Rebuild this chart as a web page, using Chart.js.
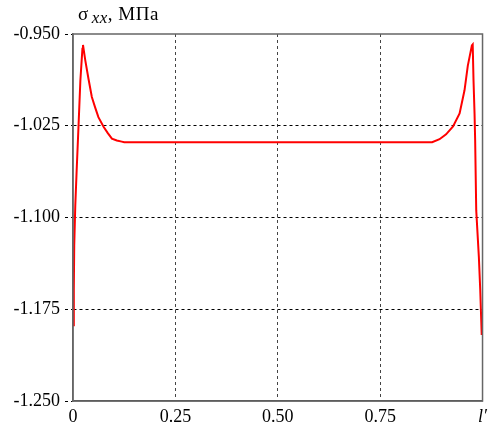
<!DOCTYPE html>
<html>
<head>
<meta charset="utf-8">
<script src="https://cdn.jsdelivr.net/npm/chart.js@4/dist/chart.umd.min.js"></script>
<style>
  html, body { margin: 0; padding: 0; background: #fff; }
  #wrap { position: relative; width: 492px; height: 426px; }
  #title {
    position: absolute; left: 78px; top: 3px;
    font-family: "Liberation Serif", serif; font-size: 19px; color: #000;
    white-space: nowrap; letter-spacing: 0.5px;
  }
  #title sub { font-style: italic; font-size: 17px; vertical-align: -3px; margin-left: 3px; }
</style>
</head>
<body>
<div id="wrap">
  <canvas id="stressChart" width="492" height="426"></canvas>
  <div id="title">σ<sub>xx</sub>, МПа</div>
</div>
<script>
// Position along the element (fraction of l')
const xPos = [0, 0.002, 0.003, 0.0056, 0.009, 0.013, 0.018, 0.023, 0.0244, 0.030,
  0.038, 0.046, 0.054, 0.062, 0.075, 0.085, 0.095, 0.107, 0.119, 0.125,
  0.877, 0.895, 0.911, 0.928, 0.944, 0.956, 0.964, 0.974, 0.976, 0.978,
  0.9805, 0.982, 0.9846, 0.991, 0.9944, 0.998];

// Stress sigma_xx, MPa
const sigmaXX = [-1.188, -1.159, -1.123, -1.090, -1.061, -1.029, -0.988, -0.962, -0.959, -0.9715,
  -0.987, -1.0015, -1.010, -1.018, -1.026, -1.031, -1.0355, -1.037, -1.038, -1.0385,
  -1.0385, -1.036, -1.032, -1.0255, -1.015, -0.996, -0.976, -0.9593, -0.9585, -0.988,
  -1.015, -1.037, -1.094, -1.132, -1.159, -1.196];

// Axis ticks
const xTickValues = [0, 0.25, 0.5, 0.75, 1];
const xTickLabels = ['0', '0.25', '0.50', '0.75', 'l′'];
const yTickValues = [-1.25, -1.175, -1.1, -1.025, -0.95];

const serif = '"Liberation Serif", "Times New Roman", serif';

// frame round the plot area
const framePlugin = {
  id: 'frame',
  afterDraw(chart) {
    const a = chart.chartArea;
    const ctx = chart.ctx;
    ctx.save();
    ctx.strokeStyle = '#666';
    ctx.lineWidth = 1.5;
    ctx.strokeRect(a.left, a.top, a.right - a.left, a.bottom - a.top);
    ctx.restore();
  }
};

const ctx = document.getElementById('stressChart').getContext('2d');

new Chart(ctx, {
  type: 'line',
  data: {
    datasets: [{
      data: xPos.map((x, i) => ({ x: x, y: sigmaXX[i] })),
      borderColor: '#ff0000',
      borderWidth: 2,
      pointRadius: 0,
      fill: false,
      tension: 0
    }]
  },
  options: {
    responsive: false,
    animation: false,
    layout: { padding: { top: 34, right: 9, left: 0, bottom: 0 } },
    plugins: {
      legend: { display: false },
      tooltip: { enabled: false }
    },
    scales: {
      x: {
        type: 'linear',
        min: 0,
        max: 1,
        afterBuildTicks: (scale) => { scale.ticks = xTickValues.map(v => ({ value: v })); },
        afterFit: (scale) => { scale.height = 25; },
        ticks: {
          autoSkip: false,
          maxRotation: 0,
          padding: 5,
          color: '#000',
          font: (c) => ({ family: serif, size: 18, style: c.tick && c.tick.value === 1 ? 'italic' : 'normal' }),
          callback: (v) => xTickLabels[xTickValues.indexOf(v)]
        },
        grid: {
          color: (c) => (c.tick && (c.tick.value === 0 || c.tick.value === 1)) ? 'rgba(0,0,0,0)' : '#444',
          lineWidth: 1,
          drawTicks: false
        },
        border: { display: true, color: '#444', width: 1.5, dash: [3, 3] }
      },
      y: {
        type: 'linear',
        min: -1.25,
        max: -0.95,
        afterBuildTicks: (scale) => { scale.ticks = yTickValues.map(v => ({ value: v })); },
        afterFit: (scale) => { scale.width = 73; },
        ticks: {
          padding: 5,
          color: '#000',
          font: { family: serif, size: 18 },
          callback: (v) => v.toFixed(3)
        },
        grid: {
          color: (c) => (c.tick && (c.tick.value === -1.25 || c.tick.value === -0.95)) ? 'rgba(0,0,0,0)' : '#000',
          lineWidth: 1,
          tickLength: 8,
          tickColor: '#000',
          tickBorderDash: [3, 3]
        },
        border: { display: true, color: '#666', width: 1.5, dash: [3, 3] }
      }
    }
  },
  plugins: [framePlugin]
});
</script>
</body>
</html>
